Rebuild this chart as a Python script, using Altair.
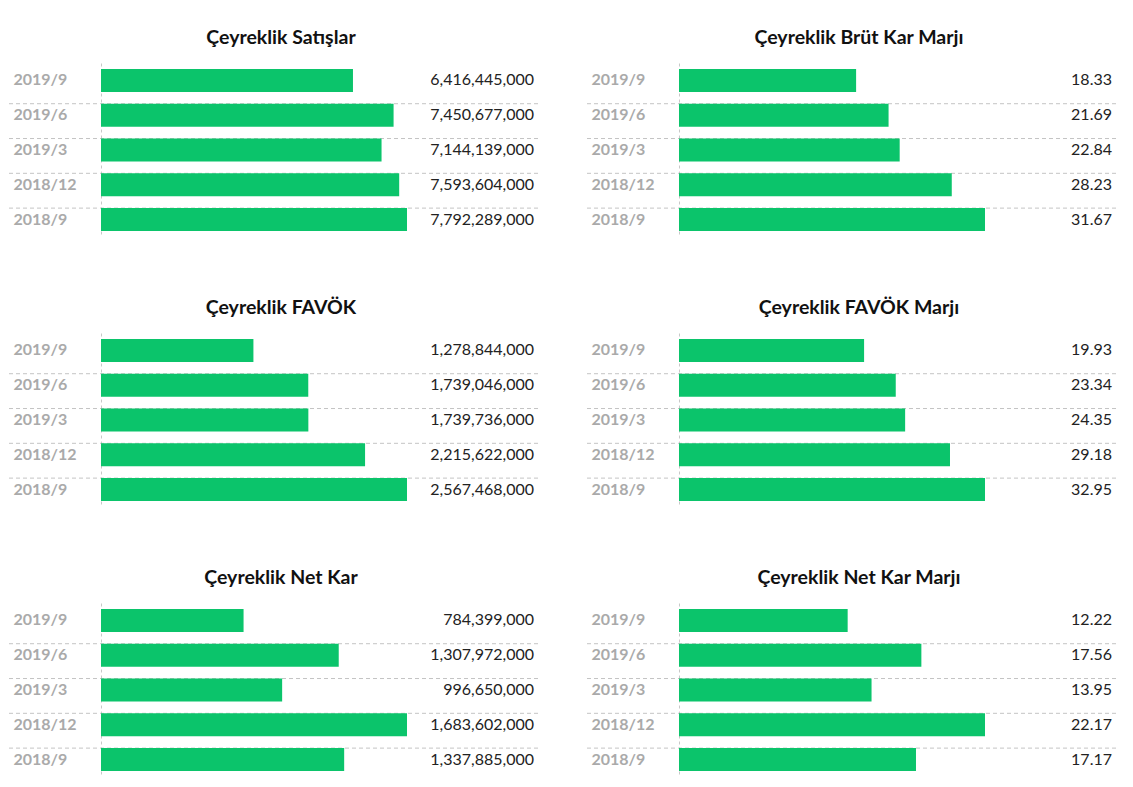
import altair as alt
import pandas as pd

quarters = ["2019/9", "2019/6", "2019/3", "2018/12", "2018/9"]

satislar = [6416445000, 7450677000, 7144139000, 7593604000, 7792289000]
brut_kar_marji = [18.33, 21.69, 22.84, 28.23, 31.67]
favok = [1278844000, 1739046000, 1739736000, 2215622000, 2567468000]
favok_marji = [19.93, 23.34, 24.35, 29.18, 32.95]
net_kar = [784399000, 1307972000, 996650000, 1683602000, 1337885000]
net_kar_marji = [12.22, 17.56, 13.95, 22.17, 17.17]

titles = [
    "Çeyreklik Satışlar", "Çeyreklik Brüt Kar Marjı",
    "Çeyreklik FAVÖK", "Çeyreklik FAVÖK Marjı",
    "Çeyreklik Net Kar", "Çeyreklik Net Kar Marjı",
]
series = [satislar, brut_kar_marji, favok, favok_marji, net_kar, net_kar_marji]
formats = [",d", ".2f", ",d", ".2f", ",d", ".2f"]

FONT = "Lato"
GREEN = "#0bc46b"
W, H = 438, 174


def panel(title, values, fmt):
    df = pd.DataFrame({"q": quarters, "v": values})
    base = alt.Chart(df)
    y = alt.Y(
        "q:N",
        sort=quarters,
        title=None,
        scale=alt.Scale(paddingInner=0.34, paddingOuter=0.17),
        axis=alt.Axis(
            labelAlign="left",
            labelPadding=88,
            labelFont=FONT,
            labelFontSize=16,
            labelFontWeight="bold",
            labelColor="#aaaaaa",
            ticks=False,
            domain=True,
            domainColor="#c8c8c8",
            domainDash=[3, 3],
            grid=False,
        ),
    )
    bars = base.mark_bar(color=GREEN).encode(
        y=y,
        x=alt.X("v:Q", axis=None,
                scale=alt.Scale(zero=True, nice=False, range=[0, 306])),
    )
    text = base.mark_text(align="right", baseline="middle", font=FONT,
                          fontSize=16, color="#222222").encode(
        y=alt.Y("q:N", sort=quarters),
        x=alt.value(433),
        text=alt.Text("v:Q", format=fmt),
    )
    rules = base.transform_filter(
        alt.datum.q != quarters[0]
    ).mark_rule(color="#c4c4c4", strokeDash=[4, 3], strokeWidth=1).encode(
        y=alt.Y("q:N", sort=quarters, bandPosition=0),
        x=alt.value(-92),
        x2=alt.value(438),
    )
    return alt.layer(rules, bars, text).properties(
        width=W, height=H,
        title=alt.TitleParams(
            title, anchor="middle", frame="bounds", dx=7,
            font=FONT, fontSize=19.5, fontWeight="bold", color="#111111",
            offset=15,
        ),
    )


rows = []
for r in range(3):
    rows.append(alt.hconcat(
        panel(titles[2 * r], series[2 * r], formats[2 * r]),
        panel(titles[2 * r + 1], series[2 * r + 1], formats[2 * r + 1]),
        spacing=46,
    ))

chart = alt.vconcat(*rows, spacing=60).properties(
    padding={"left": 0, "top": 19, "right": 5, "bottom": 5}
).configure_view(stroke=None)

chart.save("out.html", embed_options={"renderer": "svg", "actions": False})
